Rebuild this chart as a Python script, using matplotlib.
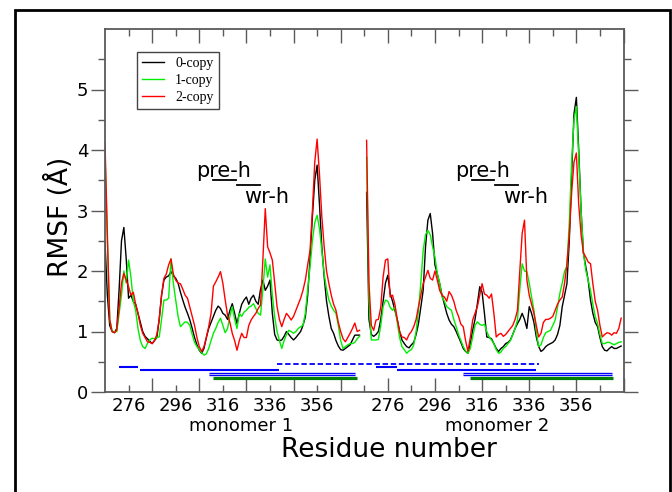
import numpy as np
import matplotlib
matplotlib.use('Agg')
import matplotlib.pyplot as plt
from matplotlib.patches import Rectangle
import matplotlib.transforms as mtransforms

# ---------------- data ----------------
offset2 = 110  # monomer 2 drawn after monomer 1 on a shared axis
m1_res = np.arange(266, 375)
m2_res = np.arange(267, 376)

m1_black = [2.48, 1.6, 1.1, 1.0, 0.98, 1.05, 1.7, 2.5, 2.72, 2.2,
            1.55, 1.6, 1.5, 1.45, 1.3, 1.15, 1.0, 0.92, 0.88, 0.84,
            0.80, 0.85, 0.9, 1.2, 1.6, 1.85, 1.9, 1.92, 1.99, 1.92,
            1.88, 1.8, 1.65, 1.52, 1.4, 1.3, 1.19, 1.05, 0.9, 0.78,
            0.69, 0.64, 0.72, 0.9, 1.05, 1.15, 1.25, 1.35, 1.42, 1.38,
            1.3, 1.27, 1.2, 1.35, 1.46, 1.3, 1.13, 1.3, 1.45, 1.52,
            1.57, 1.45, 1.55, 1.6, 1.5, 1.45, 1.7, 1.85, 1.68, 1.75,
            1.85, 1.3, 0.95, 0.86, 0.85, 0.86, 0.92, 1.0, 0.95, 0.9,
            0.86, 0.9, 0.95, 1.0, 1.1, 1.24, 1.6, 2.2, 2.9, 3.5,
            3.75, 3.1, 2.4, 1.9, 1.5, 1.25, 1.05, 0.97, 0.85, 0.76,
            0.7, 0.69, 0.72, 0.75, 0.78, 0.86, 0.94, 0.94, 0.94]

m1_green = [3.95, 2.5, 1.2, 1.0, 1.0, 1.0, 1.3, 1.6, 2.0, 1.8,
            2.18, 1.9, 1.5, 1.35, 1.05, 0.85, 0.75, 0.72, 0.8, 0.86,
            0.89, 0.88, 0.9, 0.91, 1.2, 1.52, 1.52, 1.55, 2.2, 1.8,
            1.52, 1.25, 1.08, 1.12, 1.16, 1.15, 1.1, 0.95, 0.82, 0.75,
            0.7, 0.65, 0.61, 0.63, 0.72, 0.85, 0.97, 1.05, 1.15, 1.22,
            1.1, 0.98, 1.05, 1.25, 1.41, 1.2, 1.05, 1.3, 1.25, 1.32,
            1.35, 1.4, 1.42, 1.46, 1.38, 1.3, 1.27, 1.7, 2.2, 1.9,
            2.1, 1.6, 1.24, 1.0, 0.85, 0.72, 0.85, 0.95, 1.02, 1.0,
            0.97, 1.0, 1.05, 1.08, 1.1, 1.3, 1.7, 2.07, 2.5, 2.8,
            2.92, 2.7, 2.34, 1.95, 1.7, 1.52, 1.42, 1.35, 1.3, 1.1,
            0.85, 0.72, 0.75, 0.78, 0.8, 0.8, 0.82, 0.88, 0.92]

m1_red = [4.12, 2.6, 1.2, 1.0, 0.98, 1.02, 1.4, 1.8, 1.96, 1.85,
          1.74, 1.6, 1.65, 1.45, 1.3, 1.1, 0.97, 0.9, 0.83, 0.82,
          0.8, 0.85, 0.95, 1.2, 1.6, 1.88, 1.95, 2.1, 2.2, 1.95,
          1.85, 1.8, 1.79, 1.7, 1.6, 1.55, 1.4, 1.25, 1.1, 0.9,
          0.75, 0.67, 0.75, 0.9, 1.08, 1.3, 1.75, 1.82, 1.9, 1.99,
          1.8, 1.52, 1.27, 1.15, 0.97, 0.85, 0.69, 0.85, 0.97, 0.9,
          0.9, 1.1, 1.19, 1.25, 1.3, 1.38, 1.44, 2.2, 3.03, 2.4,
          2.3, 2.18, 1.8, 1.41, 1.2, 1.08, 1.2, 1.3, 1.25, 1.19,
          1.25, 1.35, 1.45, 1.55, 1.68, 1.85, 2.1, 2.34, 3.0, 3.8,
          4.18, 3.6, 2.9, 2.4, 2.0, 1.79, 1.6, 1.45, 1.35, 1.15,
          1.0, 0.88, 0.83, 0.9, 0.97, 1.05, 1.14, 1.0, 1.02]

m2_black = [3.3, 1.2, 0.95, 0.92, 0.95, 1.0, 1.2, 1.5, 1.8, 1.93,
            1.63, 1.5, 1.35, 1.2, 1.0, 0.86, 0.8, 0.75, 0.73, 0.78,
            0.82, 0.95, 1.13, 1.4, 1.68, 2.4, 2.84, 2.95, 2.62, 2.1,
            1.95, 1.79, 1.6, 1.45, 1.3, 1.19, 1.12, 1.08, 1.0, 0.91,
            0.82, 0.72, 0.67, 0.64, 0.8, 1.02, 1.2, 1.46, 1.74, 1.65,
            1.3, 0.91, 0.9, 0.88, 0.8, 0.72, 0.67, 0.72, 0.75, 0.8,
            0.82, 0.86, 0.95, 1.05, 1.13, 1.2, 1.3, 1.2, 1.05, 1.41,
            1.3, 1.15, 0.91, 0.75, 0.67, 0.7, 0.75, 0.78, 0.8, 0.82,
            0.86, 0.95, 1.1, 1.41, 1.6, 1.79, 2.5, 3.6, 4.6, 4.87,
            4.0, 3.0, 2.3, 2.07, 1.85, 1.52, 1.3, 1.15, 1.08, 0.9,
            0.75, 0.69, 0.68, 0.72, 0.75, 0.72, 0.72, 0.74, 0.76]

m2_green = [3.88, 1.5, 0.86, 0.86, 0.86, 0.87, 1.1, 1.41, 1.52, 1.5,
            1.4, 1.35, 1.4, 1.15, 0.9, 0.75, 0.7, 0.64, 0.68, 0.7,
            0.78, 1.0, 1.35, 1.8, 2.34, 2.6, 2.67, 2.6, 2.4, 2.23,
            1.96, 1.8, 1.57, 1.5, 1.41, 1.38, 1.35, 1.2, 1.08, 0.95,
            0.85, 0.75, 0.68, 0.64, 0.72, 0.91, 1.1, 1.16, 1.12, 1.1,
            1.12, 1.0, 0.91, 0.86, 0.8, 0.7, 0.64, 0.66, 0.72, 0.75,
            0.8, 0.85, 0.95, 1.05, 1.19, 1.7, 2.12, 2.0, 1.99, 1.8,
            1.57, 1.35, 1.0, 0.75, 0.78, 0.9, 0.98, 1.0, 1.02, 1.1,
            1.19, 1.4, 1.63, 1.8, 2.0, 2.07, 2.8, 3.8, 4.5, 4.72,
            3.9, 3.0, 2.3, 2.01, 1.85, 1.68, 1.45, 1.25, 1.13, 0.95,
            0.8, 0.8, 0.82, 0.82, 0.8, 0.78, 0.8, 0.82, 0.83]

m2_red = [4.16, 1.8, 1.1, 1.02, 1.19, 1.2, 1.4, 1.9, 2.18, 2.2,
          1.57, 1.6, 1.45, 1.2, 1.0, 0.91, 0.9, 0.86, 0.95, 1.0,
          1.08, 1.2, 1.41, 1.6, 1.79, 1.9, 2.01, 1.88, 1.85, 2.0,
          1.85, 1.68, 1.6, 1.57, 1.5, 1.66, 1.6, 1.5, 1.35, 1.25,
          1.12, 1.08, 0.85, 0.67, 0.9, 1.19, 1.3, 1.41, 1.6, 1.79,
          1.62, 1.6, 1.55, 1.62, 1.3, 0.91, 0.95, 0.97, 0.92, 0.95,
          1.0, 1.05, 1.1, 1.2, 1.35, 2.0, 2.62, 2.84, 1.85, 1.6,
          1.45, 1.3, 1.1, 0.91, 0.97, 1.15, 1.2, 1.2, 1.22, 1.25,
          1.35, 1.45, 1.52, 1.57, 1.8, 2.12, 2.6, 3.3, 3.8, 3.95,
          3.1, 2.6, 2.3, 2.23, 2.15, 2.12, 1.79, 1.5, 1.35, 1.1,
          0.91, 0.95, 0.98, 0.97, 0.94, 0.98, 0.97, 1.05, 1.22]

series_labels = ['0-copy', '1-copy', '2-copy']
series_colors = ['black', '#00ee00', '#ff0000']

# secondary-structure segments: (start position, end position, level)
seg_start = [272, 281, 310, 312, 339, 381, 390, 418, 421]
seg_end   = [280, 340, 372, 373, 450, 390, 449, 481, 481.5]
seg_level = [0.42, 0.36, 0.30, 0.225, 0.47, 0.42, 0.36, 0.30, 0.225]
seg_kind  = ['solid', 'solid', 'double', 'green', 'dashed',
             'solid', 'solid', 'double', 'green']

tick_label_pos = [276, 296, 316, 336, 356, 386, 406, 426, 446, 466]
tick_label_txt = ['276', '296', '316', '336', '356', '276', '296', '316', '336', '356']

# ---------------- figure ----------------
fig = plt.figure(figsize=(6.72, 4.92), dpi=100)
ax = fig.add_axes([105/672, 1-392/492, (623.5-105)/672, (392-29)/492])

spine_col = '#5a5a5a'
m1_x = m1_res
m2_x = m2_res + offset2
data1 = [m1_black, m1_green, m1_red]
data2 = [m2_black, m2_green, m2_red]
handles = []
for d1, d2, c, lab in zip(data1, data2, series_colors, series_labels):
    h, = ax.plot(m1_x, d1, color=c, lw=1.0, label=lab)
    ax.plot(m2_x, d2, color=c, lw=1.0)
    handles.append(h)

for s, e, lv, k in zip(seg_start, seg_end, seg_level, seg_kind):
    if k == 'solid':
        ax.plot([s, e], [lv, lv], color='#0000ff', lw=1.5, solid_capstyle='butt')
    elif k == 'double':
        ax.plot([s, e], [lv, lv], color='#0000ff', lw=2.4, solid_capstyle='butt')
        ax.plot([s, e], [lv, lv], color='white', lw=0.5, solid_capstyle='butt')
    elif k == 'green':
        ax.plot([s, e], [lv, lv], color='#008000', lw=2.3, solid_capstyle='butt')
    else:
        ax.plot([s, e], [lv, lv], color='#0000ff', lw=1.3, ls=(0, (3, 1.5)))

ax.set_xlim(266, 486)
ax.set_ylim(0, 6)
ax.set_xticks(np.arange(286, 487, 20))
ax.set_xticks(np.arange(276, 486, 20), minor=True)
ax.set_yticks(np.arange(0, 6, 1))
ax.set_yticks(np.arange(0.5, 6, 1), minor=True)
ax.tick_params(axis='x', which='both', direction='in', top=True, bottom=True,
               labelbottom=False, color=spine_col, width=1.0)
ax.tick_params(axis='x', which='major', length=10)
ax.tick_params(axis='x', which='minor', length=5)
ax.tick_params(axis='y', which='both', direction='out', left=True, right=True,
               color=spine_col, width=1.0, labelsize=13, pad=2)
ax.tick_params(axis='y', which='major', length=10)
ax.tick_params(axis='y', which='minor', length=5)
for sp in ax.spines.values():
    sp.set_color(spine_col)
    sp.set_linewidth(1.3)

trans = mtransforms.blended_transform_factory(ax.transData, fig.transFigure)
for p, t in zip(tick_label_pos, tick_label_txt):
    ax.text(p, 1-397/492, t, transform=trans, ha='center', va='top', fontsize=13)

# helix annotations
def helix_note(x0, xw):
    ax.text(x0, 3.56, 'pre-h', fontsize=15, ha='left', va='baseline')
    ax.text(xw, 3.12, 'wr-h', fontsize=15, ha='left', va='baseline')
for x0, xw in [(304.7, 325.2), (414.4, 434.8)]:
    helix_note(x0, xw)
ax.plot([311.9, 321.6], [3.51, 3.51], color='black', lw=1.3)
ax.plot([322.0, 331.8], [3.42, 3.42], color='black', lw=1.3)
ax.plot([421.7, 431.2], [3.51, 3.51], color='black', lw=1.3)
ax.plot([431.6, 441.4], [3.42, 3.42], color='black', lw=1.3)

leg = ax.legend(handles=handles, loc='upper left', bbox_to_anchor=(0.0617, 0.9366),
                borderaxespad=0, prop={'family': 'Liberation Serif', 'size': 10},
                handlelength=1.6, handletextpad=0.8, labelspacing=0.3,
                borderpad=0.35, fancybox=False, framealpha=1, edgecolor='#444444')
leg.get_frame().set_linewidth(1.0)

fig.text(59/672, 1-217/492, 'RMSF (Å)', rotation=90, ha='center', va='center', fontsize=19)
fig.text(389/672, 1-457/492, 'Residue number', ha='center', va='baseline', fontsize=19)
fig.text(241.5/672, 1-431/492, 'monomer 1', ha='center', va='baseline', fontsize=13)
fig.text(497.5/672, 1-431/492, 'monomer 2', ha='center', va='baseline', fontsize=13)

fig.add_artist(Rectangle((14.5/672, -0.05), (669.5-14.5)/672, 0.05 + 1 - 10.3/492,
                         transform=fig.transFigure, fill=False, lw=2.0,
                         edgecolor='black', clip_on=False))

fig.savefig('out.png', dpi=100)
